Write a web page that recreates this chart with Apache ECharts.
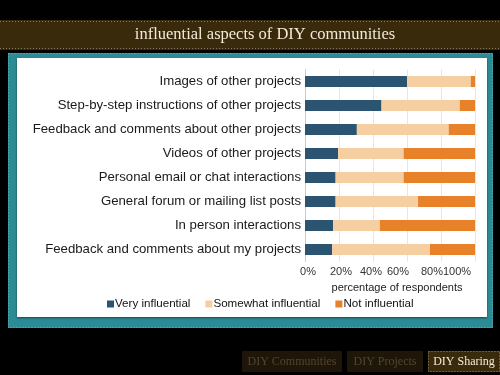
<!DOCTYPE html>
<html>
<head>
<meta charset="utf-8">
<script src="https://cdn.jsdelivr.net/npm/echarts@6/dist/echarts.min.js"></script>
<style>html,body{margin:0;padding:0;background:#000;}#c{width:500px;height:375px;}</style>
</head>
<body>
<div id="c"></div>
<script>
const categories = [
  "Images of other projects",
  "Step-by-step instructions of other projects",
  "Feedback and comments about other projects",
  "Videos of other projects",
  "Personal email or chat interactions",
  "General forum or mailing list posts",
  "In person interactions",
  "Feedback and comments about my projects"
];
const veryInfluential = [60, 45, 30.5, 19.5, 18, 18, 16.5, 16];
const somewhatInfluential = [37.5, 46, 54, 38.5, 40, 48.5, 27.5, 57.5];
const notInfluential = [2.5, 9, 15.5, 42, 42, 33.5, 56, 26.5];
const tickLabels = ["0%", "20%", "40%", "60%", "80%", "100%"];
const seriesNames = ["Very influential", "Somewhat influential", "Not influential"];
const navItems = ["DIY Communities", "DIY Projects", "DIY Sharing"];

const chart = echarts.init(document.getElementById('c'), null, {renderer: 'canvas'});
const serif = "'Liberation Serif', 'DejaVu Serif', serif";
const sans = "'Liberation Sans', Arial, sans-serif";

const graphics = [
  {type:'rect', shape:{x:0,y:20,width:500,height:30}, style:{fill:'#3a2a0c'}, z:-10},
  {type:'line', shape:{x1:0,y1:21.5,x2:500,y2:21.5}, style:{stroke:'#8a7a5a', lineWidth:1, lineDash:[1,2]}, z:-9},
  {type:'line', shape:{x1:0,y1:48.5,x2:500,y2:48.5}, style:{stroke:'#8a7a5a', lineWidth:1, lineDash:[1,2]}, z:-9},
  {type:'text', x:265, y:35, style:{text:'influential aspects of DIY communities', fill:'#f3ead8', font:'16.5px ' + serif, align:'center', verticalAlign:'middle'}, z:-8},
  {type:'rect', shape:{x:8,y:53,width:485,height:275}, style:{fill:'#2b8c96'}, z:-10},
  {type:'rect', shape:{x:8.5,y:53.5,width:484,height:274}, style:{fill:'none', stroke:'#6fb8bf', lineWidth:1, lineDash:[1,2]}, z:-9},
  {type:'rect', shape:{x:17,y:58,width:470,height:259}, style:{fill:'#ffffff', shadowColor:'rgba(0,0,0,0.5)', shadowBlur:2, shadowOffsetY:1}, z:-8}
];
const navBoxes = [[242,100,'#1e1608','#54462e'],[347,76,'#1e1608','#54462e'],[428,72,'#3a2a0c','#f3ead8']];
navItems.forEach((t,i)=>{
  const b = navBoxes[i];
  graphics.push({type:'rect', shape:{x:b[0],y:351,width:b[1],height:21}, style:{fill:b[2]}, z:-10});
  if(i===2){
    graphics.push({type:'rect', shape:{x:b[0]+0.5,y:351.5,width:b[1]-1,height:20}, style:{fill:'none',stroke:'#a08a60',lineWidth:1,lineDash:[1,2]}, z:-9});
  }
  graphics.push({type:'text', x:b[0]+b[1]/2, y:361.5, style:{text:t, fill:b[3], font:'12px ' + serif, align:'center', verticalAlign:'middle'}, z:-8});
});

const colors = ['#2b5470', '#f5cfa2', '#e8822a'];
const data = [veryInfluential, somewhatInfluential, notInfluential];
// per-label nudges reproducing the reference's label placement
const labelRich = {
  t0: {padding:[0,0,0,6]},
  t1: {padding:[0,0,0,4]},
  t2: {padding:[0,4,0,0]},
  t3: {padding:[0,18,0,0]},
  t4: {padding:[0,18,0,0]},
  t5: {padding:[0,36,0,0]}
};
Object.values(labelRich).forEach(r => { r.color = '#333'; r.fontSize = 11; r.fontFamily = sans; });
// two overlaid axes share the scale: one shows even ticks, the other odd ticks
const fmt = (parity) => (v) => {
  const k = Math.round(v / 20);
  return (k % 2 === parity) ? '{t' + k + '|' + tickLabels[k] + '}' : '';
};
const baseX = {
  type: 'value', min: 0, max: 100, interval: 20, gridIndex: 0, position: 'bottom',
  axisLine: {show: false}, axisTick: {show: false}
};

chart.setOption({
  backgroundColor: '#000000',
  animation: false,
  color: colors,
  graphic: graphics,
  grid: {left: 305, right: 25, top: 69.5, bottom: 113.5, containLabel: false},
  legend: {
    data: seriesNames,
    left: 102, top: 293,
    icon: 'rect', itemWidth: 7, itemHeight: 7, itemGap: 15,
    textStyle: {color: '#111', fontSize: 11.6, fontFamily: sans, padding:[0,0,0,-4]}
  },
  xAxis: [
    Object.assign({}, baseX, {
      splitLine: {show: true, lineStyle: {color: '#e6e6e6', width: 1}},
      axisLabel: {margin: 5, showMinLabel: true, showMaxLabel: true, formatter: fmt(0), rich: labelRich},
      name: 'percentage of respondents', nameLocation: 'middle', nameGap: 13,
      nameTextStyle: {color: '#222', fontSize: 11, fontFamily: sans, padding:[0,0,0,14], verticalAlign:'top'}
    }),
    Object.assign({}, baseX, {
      splitLine: {show: false},
      axisLabel: {margin: 5, showMinLabel: true, showMaxLabel: true, formatter: fmt(1), rich: labelRich}
    })
  ],
  yAxis: {
    type: 'category', data: categories, inverse: true,
    axisLine: {show: true, lineStyle: {color: '#cccccc'}},
    axisTick: {show: false},
    axisLabel: {color: '#1a1a1a', fontSize: 13.2, fontFamily: sans, margin: 4}
  },
  series: seriesNames.map((n, i) => ({
    name: n, type: 'bar', stack: 'total', barWidth: 11, xAxisIndex: 0,
    data: data[i], itemStyle: {color: colors[i]}
  }))
});
</script>
</body>
</html>
